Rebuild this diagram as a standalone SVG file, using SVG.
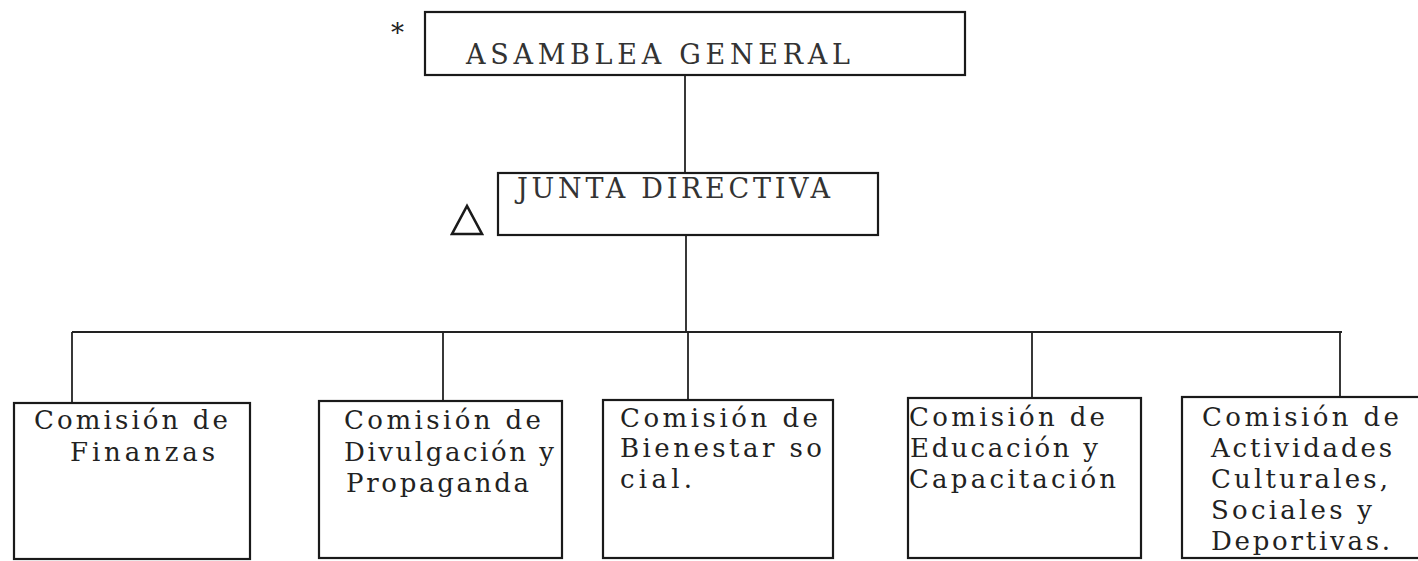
<svg xmlns="http://www.w3.org/2000/svg" width="1418" height="561" viewBox="0 0 1418 561">
<style>
.box{fill:none;stroke:#1a1a1a;stroke-width:2.2}
.ln{fill:none;stroke:#222;stroke-width:1.8}
.t{font-family:"DejaVu Serif","Liberation Serif",serif;font-size:26px;fill:#222}
.h{font-family:"DejaVu Serif","Liberation Serif",serif;font-size:27px;fill:#333}
</style>
<rect width="1418" height="561" fill="#fff"/>
<g id="connectors">
<line class="ln" x1="685" y1="75" x2="685" y2="173"/>
<line class="ln" x1="686" y1="235" x2="686" y2="332"/>
<line class="ln" x1="72" y1="332" x2="1342" y2="332"/>
<line class="ln" x1="72" y1="332" x2="72" y2="403"/>
<line class="ln" x1="443" y1="332" x2="443" y2="401"/>
<line class="ln" x1="688" y1="332" x2="688" y2="400"/>
<line class="ln" x1="1032" y1="332" x2="1032" y2="398"/>
<line class="ln" x1="1340" y1="332" x2="1340" y2="397"/>
</g>
<g id="asamblea">
<rect class="box" x="425" y="12" width="540" height="63"/>
<text class="h" x="466" y="64" textLength="384" lengthAdjust="spacing">ASAMBLEA GENERAL</text>
<text class="t" x="391" y="42" font-size="22">*</text>
</g>
<g id="junta">
<rect class="box" x="498" y="173" width="380" height="62"/>
<text class="h" x="517" y="198" textLength="313" lengthAdjust="spacing">JUNTA DIRECTIVA</text>
<polygon points="452,234 482,234 467,206" fill="none" stroke="#1a1a1a" stroke-width="2.6"/>
</g>
<g id="finanzas">
<rect class="box" x="14" y="403" width="236" height="156"/>
<text class="t" x="34" y="429" textLength="194" lengthAdjust="spacing">Comisión de</text>
<text class="t" x="70" y="461" textLength="145" lengthAdjust="spacing">Finanzas</text>
</g>
<g id="divulgacion">
<rect class="box" x="319" y="401" width="243" height="157"/>
<text class="t" x="344" y="429" textLength="197" lengthAdjust="spacing">Comisión de</text>
<text class="t" x="344" y="461" textLength="210" lengthAdjust="spacing">Divulgación y</text>
<text class="t" x="346" y="492" textLength="183" lengthAdjust="spacing">Propaganda</text>
</g>
<g id="bienestar">
<rect class="box" x="603" y="400" width="230" height="158"/>
<text class="t" x="620" y="427" textLength="198" lengthAdjust="spacing">Comisión de</text>
<text class="t" x="620" y="457" textLength="202" lengthAdjust="spacing">Bienestar so</text>
<text class="t" x="620" y="488" textLength="72" lengthAdjust="spacing">cial.</text>
</g>
<g id="educacion">
<rect class="box" x="908" y="398" width="233" height="160"/>
<text class="t" x="909" y="426" textLength="196" lengthAdjust="spacing">Comisión de</text>
<text class="t" x="910" y="457" textLength="188" lengthAdjust="spacing">Educación y</text>
<text class="t" x="909" y="488" textLength="207" lengthAdjust="spacing">Capacitación</text>
</g>
<g id="actividades">
<rect class="box" x="1182" y="397" width="245" height="161"/>
<text class="t" x="1202" y="426" textLength="197" lengthAdjust="spacing">Comisión de</text>
<text class="t" x="1211" y="457" textLength="181" lengthAdjust="spacing">Actividades</text>
<text class="t" x="1211" y="488" textLength="177" lengthAdjust="spacing">Culturales,</text>
<text class="t" x="1211" y="519" textLength="161" lengthAdjust="spacing">Sociales y</text>
<text class="t" x="1211" y="550" textLength="179" lengthAdjust="spacing">Deportivas.</text>
</g>
</svg>
